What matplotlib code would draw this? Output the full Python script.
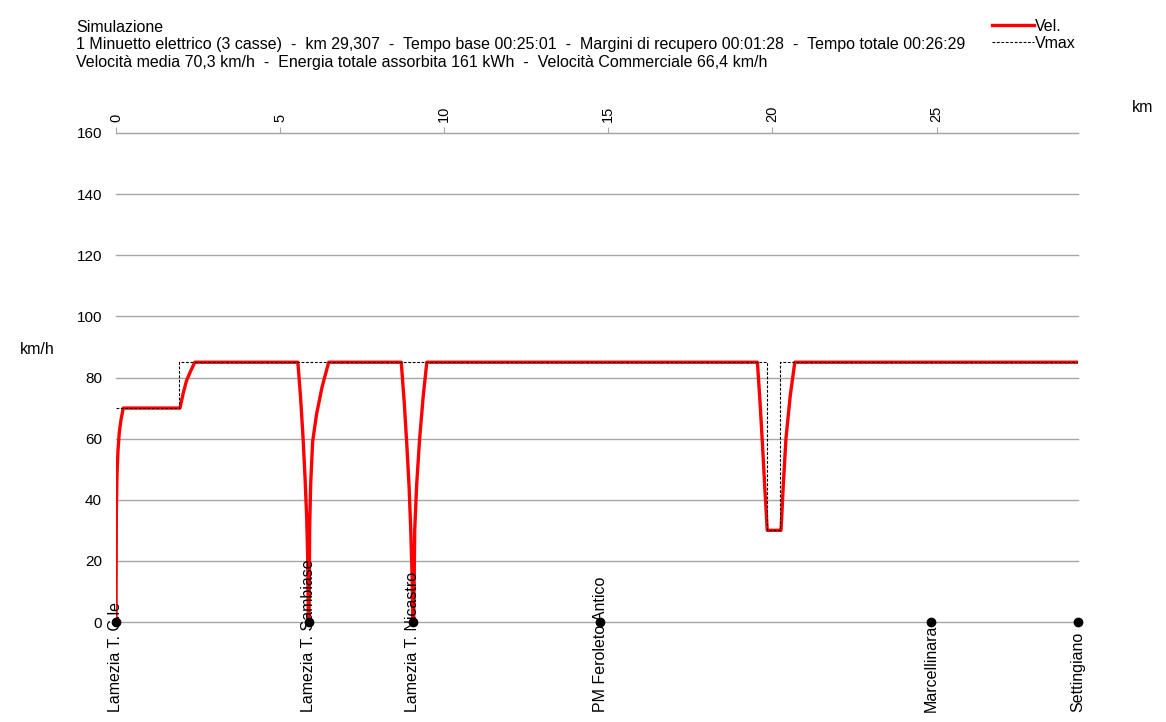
import matplotlib.pyplot as plt
from matplotlib.lines import Line2D
from matplotlib.transforms import blended_transform_factory

plt.rcParams['font.family'] = ['Liberation Sans', 'DejaVu Sans']

# speed profile (km, km/h)
vel_km = [0.00, 0.01, 0.03, 0.06, 0.10, 0.15, 0.22,
          1.95, 2.05, 2.15, 2.27, 2.40,
          5.54, 5.62, 5.70, 5.76, 5.81, 5.84, 5.86,
          5.88, 5.90, 5.93, 5.99, 6.11, 6.28, 6.48,
          8.69, 8.78, 8.86, 8.93, 8.98, 9.02, 9.04,
          9.07, 9.10, 9.16, 9.25, 9.36, 9.47,
          19.54, 19.62, 19.70, 19.77, 19.84,
          20.24, 20.26, 20.33, 20.41, 20.54, 20.68,
          29.307]
vel = [0, 36, 48, 56, 62, 66, 70,
       70, 75, 79, 82, 85,
       85, 74, 60, 47, 34, 21, 0,
       0, 31, 45, 59, 68, 77, 85,
       85, 72, 58, 44, 30, 15, 0,
       0, 30, 45, 60, 74, 85,
       85, 72, 57, 43, 30,
       30, 30, 45, 60, 74, 85,
       85]

vmax_km = [0.0, 1.92, 1.92, 19.84, 19.84, 20.24, 20.24, 29.307]
vmax = [70, 70, 85, 85, 30, 30, 85, 85]

stations = ["Lamezia T. C.le", "Lamezia T. Sambiase", "Lamezia T. Nicastro",
            "PM Feroleto Antico", "Marcellinara", "Settingiano"]
station_km = [0.0, 5.87, 9.04, 14.76, 24.83, 29.307]

header = ["Simulazione",
          "1 Minuetto elettrico (3 casse)  -  km 29,307  -  Tempo base 00:25:01  -  "
          "Margini di recupero 00:01:28  -  Tempo totale 00:26:29",
          "Velocità media 70,3 km/h  -  Energia totale assorbita 161 kWh  -  "
          "Velocità Commerciale 66,4 km/h"]

W, H = 1166, 722
fs = 11.55
fig = plt.figure(figsize=(W / 100, H / 100), dpi=100)
ax = fig.add_axes([116 / W, 1 - 622 / H, (1078 - 116) / W, (622 - 133) / H])

ax.plot(vmax_km, vmax, color='black', lw=0.8, ls=(0, (2.5, 1.5)), zorder=3)
ax.plot(vel_km, vel, color='#ff0000', lw=2.4, zorder=2)
ax.scatter(station_km, [0] * len(station_km), s=36, color='black', zorder=4,
           clip_on=False)

ax.set_xlim(0, 29.307)
ax.set_ylim(0, 160)
ax.set_yticks(range(0, 161, 20))
ax.grid(axis='y', color='#a6a6a6', lw=1)
for gl in ax.get_ygridlines():
    gl.set_clip_on(False)
ax.set_axisbelow(True)
for s in ['left', 'right', 'bottom']:
    ax.spines[s].set_visible(False)
ax.spines['top'].set_color('#a6a6a6')
ax.xaxis.tick_top()
ax.set_xticks(range(0, 30, 5))
ax.tick_params(axis='x', top=True, bottom=False, length=4, color='#a6a6a6',
               labelrotation=90, labelsize=10.5, pad=4)
ax.tick_params(axis='y', length=0, labelsize=11, pad=10)

tr = blended_transform_factory(ax.transData, ax.transAxes)
for name, km in zip(stations, station_km):
    ax.text(km, -0.184, name, rotation=90, ha='center', va='bottom',
            fontsize=fs, transform=tr)

for i, line in enumerate(header):
    fig.text(76 / W, 1 - (27 + 18 * i) / H, line, fontsize=fs, va='center')

fig.text(20 / W, 1 - 350 / H, "km/h", fontsize=fs, va='center')
fig.text(1143 / W, 1 - 108 / H, "km", fontsize=fs, ha='center', va='center')

handles = [Line2D([], [], color='#ff0000', lw=2.4),
           Line2D([], [], color='black', lw=0.8, ls=(0, (2.5, 1.5)))]
fig.legend(handles, ["Vel.", "Vmax"], loc='upper left',
           bbox_to_anchor=(984 / W, 1 - 11 / H), frameon=False,
           fontsize=fs, handlelength=2.6, handletextpad=0.1,
           labelspacing=0.1, borderpad=0)

fig.savefig('out.png', dpi=100)
